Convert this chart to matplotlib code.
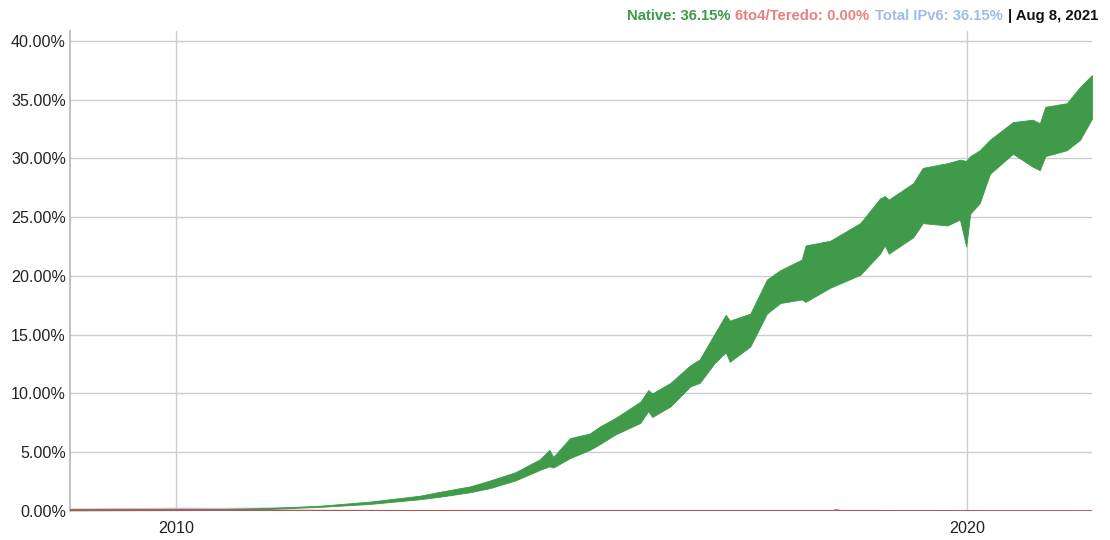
import matplotlib
matplotlib.use("Agg")
import matplotlib.pyplot as plt
from matplotlib.offsetbox import TextArea, HPacker, AnchoredOffsetbox
from matplotlib.ticker import FuncFormatter

plt.rcParams['font.family'] = ['Liberation Sans', 'DejaVu Sans']

# native IPv6 share, weekly swing read as upper / lower envelope (percent)
years = [2008.66, 2009.30, 2010.00, 2010.56, 2011.19, 2011.82, 2012.45, 2013.08,
         2013.34, 2013.72, 2013.97, 2014.29, 2014.60, 2014.72, 2014.77, 2014.98,
         2015.23, 2015.36, 2015.55, 2015.87, 2015.97, 2016.02, 2016.25, 2016.50,
         2016.62, 2016.81, 2016.95, 2017.00, 2017.26, 2017.47, 2017.64, 2017.91,
         2017.96, 2018.27, 2018.65, 2018.90, 2018.96, 2019.01, 2019.32, 2019.44,
         2019.75, 2019.91, 2019.99, 2020.04, 2020.16, 2020.29, 2020.58, 2020.83,
         2020.92, 2020.99, 2021.26, 2021.43, 2021.58]
native_hi = [0.12, 0.13, 0.14, 0.17, 0.26, 0.45, 0.80, 1.30,
             1.64, 2.10, 2.60, 3.30, 4.40, 5.20, 4.60, 6.20,
             6.60, 7.20, 7.90, 9.30, 10.30, 10.00, 10.90, 12.40,
             12.90, 15.10, 16.70, 16.20, 16.80, 19.70, 20.50, 21.40,
             22.60, 23.00, 24.50, 26.60, 26.80, 26.50, 27.90, 29.20,
             29.60, 29.90, 29.80, 30.20, 30.70, 31.60, 33.10, 33.30,
             33.00, 34.40, 34.70, 36.10, 37.10]
native_lo = [0.05, 0.06, 0.07, 0.10, 0.18, 0.35, 0.60, 1.00,
             1.22, 1.60, 1.95, 2.60, 3.50, 3.80, 3.70, 4.50,
             5.20, 5.70, 6.50, 7.50, 8.50, 8.00, 8.90, 10.60,
             10.90, 12.60, 13.50, 12.70, 14.00, 16.80, 17.70, 18.00,
             17.80, 19.00, 20.10, 21.90, 22.60, 21.90, 23.30, 24.50,
             24.30, 24.80, 22.50, 25.30, 26.20, 28.70, 30.40, 29.30,
             29.00, 30.20, 30.70, 31.60, 33.40]

# total IPv6 (native + 6to4/Teredo) where it sits above native
total_years = [2008.66, 2009.50, 2010.00, 2010.50, 2011.00, 2011.50]
total_hi = [0.22, 0.26, 0.30, 0.28, 0.30, 0.36]
total_lo = [0.10, 0.12, 0.15, 0.14, 0.18, 0.28]

# 6to4 / Teredo
relay_years = [2008.66, 2010.00, 2011.50, 2013.00, 2018.30, 2018.35, 2018.40, 2021.58]
relay_vals = [0.08, 0.08, 0.03, 0.01, 0.01, 0.08, 0.01, 0.0]

year_ticks = [2010, 2020]
y_ticks = [0, 5, 10, 15, 20, 25, 30, 35, 40]

fig = plt.figure(figsize=(11.1, 5.4), dpi=100)
ax = fig.add_axes([0.0631, 0.0537, 0.9207, 0.8889])

grid_c = '#cccccc'
for v in y_ticks[1:]:
    ax.axhline(v, color=grid_c, lw=1, zorder=0)
for t in year_ticks:
    ax.axvline(t, color=grid_c, lw=1, zorder=0)

ax.fill_between(total_years, total_lo, total_hi, color='#a9c4ec', lw=0.5, zorder=1)
ax.fill_between(years, native_lo, native_hi, color='#3f9a4a', edgecolor='#3f9a4a',
                lw=0.6, zorder=2)
ax.plot(relay_years, relay_vals, color='#b9534f', lw=1.3, zorder=3)

ax.set_xlim(2008.66, 2021.58)
ax.set_ylim(0, 40.85)
ax.set_yticks(y_ticks)
ax.yaxis.set_major_formatter(FuncFormatter(lambda v, p: f"{v:.2f}%"))
ax.set_xticks(year_ticks)
ax.set_xticklabels([str(t) for t in year_ticks])
ax.tick_params(length=0, labelsize=11.6, colors='#222222')
ax.tick_params(axis='y', pad=3)
ax.tick_params(axis='x', pad=7)

for s in ['top', 'right', 'bottom']:
    ax.spines[s].set_visible(False)
ax.spines['left'].set_color('#b5b5b5')
ax.spines['left'].set_linewidth(1.2)

parts = [("Native: 36.15%", '#3d9a46'),
         ("6to4/Teredo: 0.00%", '#e5827c'),
         ("Total IPv6: 36.15%", '#9dbde9'),
         ("| Aug 8, 2021", '#111111')]
areas = [TextArea(s, textprops=dict(color=c, fontsize=10.7, fontweight='bold'))
         for s, c in parts]
box = HPacker(children=areas, align='baseline', pad=0, sep=3.8)
anch = AnchoredOffsetbox(loc='upper right', child=box, pad=0, borderpad=0,
                         frameon=False, bbox_to_anchor=(1098 / 1110, 1 - 9 / 540),
                         bbox_transform=fig.transFigure)
fig.add_artist(anch)

fig.savefig("out.png", dpi=100)
